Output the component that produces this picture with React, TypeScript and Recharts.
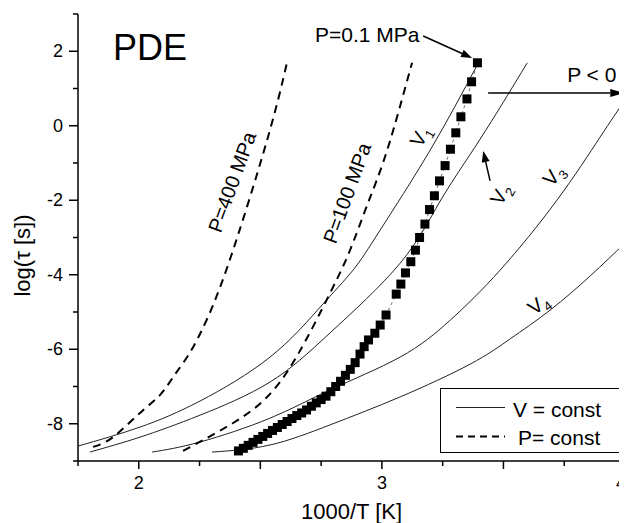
import React from 'react';
import {
  ComposedChart,
  Line,
  Scatter,
  XAxis,
  YAxis,
  Legend,
  ReferenceDot,
  ReferenceLine,
} from 'recharts';

const FONT = '"Liberation Sans", Arial, Helvetica, sans-serif';

// 1000/T [1/K] against log(tau [s])
const vConst1 = [
  [1.75, -8.6], [2.005, -8.09], [2.252, -7.39], [2.54, -6.21], [2.746, -4.87],
  [2.882, -3.87], [2.993, -2.8], [3.199, -0.65], [3.392, 1.63],
];
const vConst2 = [
  [1.799, -8.76], [2.005, -8.36], [2.252, -7.77], [2.54, -6.88], [2.787, -5.56],
  [3.075, -3.69], [3.24, -2.02], [3.404, -0.36], [3.598, 1.69],
];
const vConst3 = [
  [2.055, -8.76], [2.252, -8.49], [2.54, -7.85], [2.787, -7.09], [3.075, -6.21],
  [3.281, -5.22], [3.487, -3.87], [3.721, -1.99], [3.898, -0.3], [4.0, 0.69],
];
const vConst4 = [
  [2.301, -8.76], [2.54, -8.57], [2.787, -8.03], [3.075, -7.28], [3.363, -6.4],
  [3.528, -5.72], [3.692, -4.95], [3.857, -4.03], [4.0, -3.15],
];
const p400 = [
  [1.812, -8.62], [1.894, -8.36], [2.005, -7.71], [2.087, -7.23], [2.141, -6.75],
  [2.199, -6.21], [2.26, -5.48], [2.367, -3.74], [2.528, -0.38], [2.61, 1.71],
];
const p100 = [
  [2.182, -8.73], [2.388, -7.98], [2.528, -7.28], [2.651, -6.18], [2.787, -4.49],
  [2.869, -3.34], [2.943, -2.07], [3.022, -0.65], [3.124, 1.69],
];
// measured relaxation times at 0.1 MPa
const measured = [
  [2.41, -8.73], [2.43, -8.66], [2.45, -8.58], [2.47, -8.5], [2.49, -8.42],
  [2.51, -8.34], [2.53, -8.26], [2.55, -8.18], [2.57, -8.1], [2.59, -8.02],
  [2.61, -7.94], [2.63, -7.86], [2.65, -7.78], [2.67, -7.71], [2.69, -7.63],
  [2.71, -7.53], [2.73, -7.44], [2.75, -7.35], [2.77, -7.26], [2.79, -7.14],
  [2.81, -7.0], [2.83, -6.86], [2.85, -6.7], [2.87, -6.54], [2.89, -6.36],
  [2.91, -6.13], [2.927, -5.93], [2.945, -5.75], [2.971, -5.57], [2.993, -5.35],
  [3.017, -5.08], [3.059, -4.52], [3.078, -4.25], [3.097, -3.95], [3.119, -3.65],
  [3.138, -3.34], [3.155, -3.0], [3.177, -2.64], [3.196, -2.25], [3.216, -1.88],
  [3.237, -1.48], [3.26, -1.07], [3.282, -0.63], [3.304, -0.19], [3.325, 0.24],
  [3.35, 0.72], [3.369, 1.18], [3.393, 1.69],
];

const xTicks = [1.75, 2, 2.25, 2.5, 2.75, 3, 3.25, 3.5, 3.75, 4];
const xTickLabels = [2, 3, 4];
const yTicks = [-9, -8, -7, -6, -5, -4, -3, -2, -1, 0, 1, 2, 3];
const yTickLabels = [-8, -6, -4, -2, 0, 2];

const pts = (arr: number[][]) => arr.map(([x, y]) => ({ x, y }));

const XTick = (props: any) => {
  const { x, y, payload } = props;
  const v = payload.value;
  const labeled = xTickLabels.includes(v);
  const major = Math.abs(v * 2 - Math.round(v * 2)) < 1e-6;
  // last label would run past the window edge
  const last = v === xTickLabels[xTickLabels.length - 1];
  return (
    <g>
      <line x1={x} y1={y} x2={x} y2={y + (major ? 8 : 5)} stroke="#000" strokeWidth={1.5} />
      {labeled && (
        <text
          x={last ? x + 1 : x}
          y={y + 28}
          textAnchor={last ? 'end' : 'middle'}
          fontSize={18}
          fontFamily={FONT}
          fill="#000"
        >
          {v}
        </text>
      )}
    </g>
  );
};

const YTick = (props: any) => {
  const { x, y, payload } = props;
  const v = payload.value;
  const labeled = yTickLabels.includes(v);
  return (
    <g>
      <line x1={x - (labeled ? 9 : 5)} y1={y} x2={x} y2={y} stroke="#000" strokeWidth={1.5} />
      {labeled && (
        <text x={x - 15} y={y + 6} textAnchor="end" fontSize={18} fontFamily={FONT} fill="#000">
          {v}
        </text>
      )}
    </g>
  );
};

const xLabel = (props: any) => {
  const vb = props.viewBox;
  return (
    <text x={vb.x + vb.width / 2} y={vb.y + 58} textAnchor="middle" fontSize={22} fontFamily={FONT} fill="#000">
      1000/T [K]
    </text>
  );
};

const yLabel = (props: any) => {
  const vb = props.viewBox;
  const cx = vb.x + 22;
  const cy = vb.y + vb.height / 2 + 18;
  return (
    <text
      x={cx}
      y={cy}
      transform={`rotate(-90, ${cx}, ${cy})`}
      textAnchor="middle"
      fontSize={22}
      fontFamily={FONT}
      fill="#000"
    >
      log(τ [s])
    </text>
  );
};

const SquareShape = (p: any) => (
  <rect x={p.cx - 4.5} y={p.cy - 4.5} width={9} height={9} fill="#000" />
);

// free text placed at a data point
const note = (text: React.ReactNode, size: number, angle = 0, anchor = 'start') => (p: any) => (
  <text
    x={p.cx}
    y={p.cy}
    transform={angle ? `rotate(${angle}, ${p.cx}, ${p.cy})` : undefined}
    textAnchor={anchor}
    dy={angle ? '0.35em' : 0}
    fontSize={size}
    fontFamily={FONT}
    fill="#000"
  >
    {text}
  </text>
);

const vName = (n: number) => (
  <>
    <tspan>V</tspan>
    <tspan fontSize={13} dy={5}>{n}</tspan>
  </>
);

const arrow = (len: number, half: number, width: number) => (p: any) => {
  const { x1, y1, x2, y2 } = p;
  const dx = x2 - x1;
  const dy = y2 - y1;
  const l = Math.hypot(dx, dy) || 1;
  const ux = dx / l;
  const uy = dy / l;
  const bx = x2 - ux * len;
  const by = y2 - uy * len;
  const head = `${x2},${y2} ${bx - uy * half},${by + ux * half} ${bx + uy * half},${by - ux * half}`;
  return (
    <g>
      <line x1={x1} y1={y1} x2={bx} y2={by} stroke="#000" strokeWidth={width} />
      <polygon points={head} fill="#000" />
    </g>
  );
};

const renderLegend = () => (
  <div
    style={{
      width: 181,
      height: 65,
      border: '1.5px solid #000',
      boxSizing: 'border-box',
      background: '#fff',
      position: 'relative',
    }}
  >
    <svg width={178} height={62} style={{ position: 'absolute', left: 0, top: 0 }}>
      <line x1={15} y1={18.5} x2={64} y2={18.5} stroke="#222" strokeWidth={1} />
      <text x={72} y={27.5} fontSize={21} fontFamily={FONT} fill="#000">V = const</text>
      <line x1={15} y1={47.5} x2={64} y2={47.5} stroke="#000" strokeWidth={2} strokeDasharray="7 5" />
      <text x={77} y={55.5} fontSize={21} fontFamily={FONT} fill="#000">P= const</text>
    </svg>
  </div>
);

const solid = { stroke: '#222', strokeWidth: 1 };
const dashed = { stroke: '#000', strokeWidth: 2, strokeDasharray: '8 6' };

export default function App() {
  const series = [
    { key: 'v1', data: vConst1, style: solid },
    { key: 'v2', data: vConst2, style: solid },
    { key: 'v3', data: vConst3, style: solid },
    { key: 'v4', data: vConst4, style: solid },
    { key: 'p400', data: p400, style: dashed },
    { key: 'p100', data: p100, style: dashed },
  ];

  return (
    <div style={{ fontFamily: FONT }}>
      <ComposedChart width={619} height={515} margin={{ top: 6, right: 2, left: 0, bottom: 0 }}>
        <XAxis
          type="number"
          dataKey="x"
          domain={[1.75, 4]}
          ticks={xTicks}
          interval={0}
          allowDataOverflow
          height={62}
          tickSize={0}
          tickMargin={0}
          tickLine={false}
          tick={XTick}
          axisLine={{ stroke: '#000', strokeWidth: 1.5 }}
          label={xLabel}
        />
        <YAxis
          type="number"
          dataKey="y"
          domain={[-9, 3]}
          ticks={yTicks}
          interval={0}
          allowDataOverflow
          width={70}
          tickSize={0}
          tickMargin={0}
          tickLine={false}
          tick={YTick}
          axisLine={{ stroke: '#000', strokeWidth: 1.5 }}
          label={yLabel}
        />
        {series.map((s) => (
          <Line
            key={s.key}
            data={pts(s.data)}
            dataKey="y"
            type="natural"
            dot={false}
            activeDot={false}
            isAnimationActive={false}
            legendType="none"
            {...s.style}
          />
        ))}
        <Scatter
          data={pts(measured)}
          dataKey="y"
          shape={SquareShape}
          line={{ stroke: '#444', strokeWidth: 0.8, strokeDasharray: '3 3' }}
          isAnimationActive={false}
          legendType="none"
        />

        <ReferenceDot x={1.894} y={1.765} r={0} shape={note('PDE', 36)} />
        <ReferenceDot x={2.725} y={2.25} r={0} shape={note('P=0.1 MPa', 21)} />
        <ReferenceDot x={3.762} y={1.174} r={0} shape={note('P < 0', 21)} />
        <ReferenceDot x={2.384} y={-1.51} r={0} shape={note('P=400 MPa', 20, -70, 'middle')} />
        <ReferenceDot x={2.857} y={-1.805} r={0} shape={note('P=100 MPa', 20, -70, 'middle')} />
        <ReferenceDot x={3.157} y={-0.275} r={0} shape={note(vName(1), 20, -60, 'middle')} />
        <ReferenceDot x={3.487} y={-1.832} r={0} shape={note(vName(2), 20, -60, 'middle')} />
        <ReferenceDot x={3.705} y={-1.322} r={0} shape={note(vName(3), 20, -50, 'middle')} />
        <ReferenceDot x={3.643} y={-4.785} r={0} shape={note(vName(4), 20, -37, 'middle')} />

        <ReferenceLine segment={[{ x: 3.17, y: 2.41 }, { x: 3.371, y: 1.82 }]} shape={arrow(11, 4, 1.5)} />
        <ReferenceLine segment={[{ x: 3.437, y: 0.879 }, { x: 3.997, y: 0.879 }]} shape={arrow(14, 4, 1.5)} />
        <ReferenceLine segment={[{ x: 3.445, y: -1.48 }, { x: 3.417, y: -0.68 }]} shape={arrow(11, 4, 1.5)} />

        <Legend
          layout="vertical"
          align="center"
          verticalAlign="middle"
          wrapperStyle={{ left: 432, top: 380, width: 181, height: 65 }}
          content={renderLegend}
        />
      </ComposedChart>
    </div>
  );
}
